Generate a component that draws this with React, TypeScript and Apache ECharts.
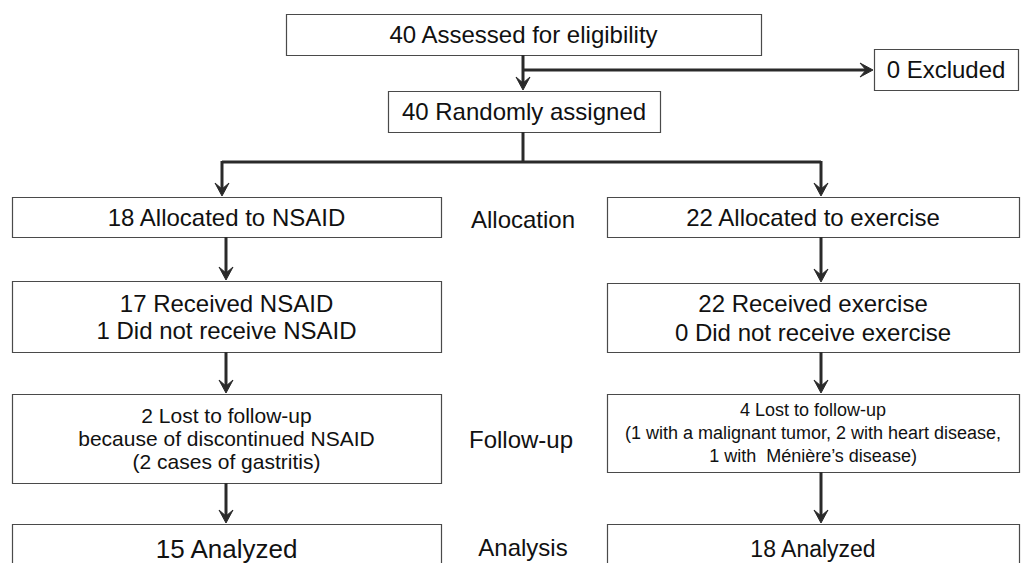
import React, { useEffect, useRef } from "react";
import * as echarts from "echarts";

// ---- content ----
const topLabels = ["40 Assessed for eligibility", "0 Excluded", "40 Randomly assigned"];
const stageLabels = ["Allocation", "Follow-up", "Analysis"];
const nsaidLabels = [
  "18 Allocated to NSAID",
  "17 Received NSAID\n1 Did not receive NSAID",
  "2 Lost to follow-up\nbecause of discontinued NSAID\n(2 cases of gastritis)",
  "15 Analyzed",
];
const exerciseLabels = [
  "22 Allocated to exercise",
  "22 Received exercise\n0 Did not receive exercise",
  "4 Lost to follow-up\n(1 with a malignant tumor, 2 with heart disease,\n1 with  Ménière’s disease)",
  "18 Analyzed",
];

const FONT = "'Liberation Sans', Arial, Helvetica, sans-serif";
const INK = "#111";
const LINE = "#2a2a2a";
const BORDER = "#4a4a4a";

type Box = { x: number; y: number; w: number; h: number; text: string; size: number; lh: number };

function boxEl(b: Box): any[] {
  return [
    {
      type: "rect",
      shape: { x: b.x + 0.5, y: b.y + 0.5, width: b.w, height: b.h },
      style: { fill: "#fff", stroke: BORDER, lineWidth: 1.2 },
      z: 1,
    },
    {
      type: "text",
      x: b.x + b.w / 2,
      y: b.y + b.h / 2,
      style: {
        text: b.text,
        fontFamily: FONT,
        fontSize: b.size,
        lineHeight: b.lh,
        fill: INK,
        align: "center",
        verticalAlign: "middle",
        textAlign: "center",
        textVerticalAlign: "middle",
      },
      z: 2,
    },
  ];
}

function seg(x1: number, y1: number, x2: number, y2: number): any {
  return {
    type: "line",
    shape: { x1, y1, x2, y2 },
    style: { stroke: LINE, lineWidth: 3 },
    z: 3,
  };
}

function headDown(x: number, tip: number): any {
  return {
    type: "polygon",
    shape: { points: [[x, tip], [x - 7, tip - 13], [x, tip - 7], [x + 7, tip - 13]] },
    style: { fill: LINE, stroke: LINE, lineWidth: 1, lineJoin: "miter" },
    z: 4,
  };
}

function headRight(tip: number, y: number): any {
  return {
    type: "polygon",
    shape: { points: [[tip, y], [tip - 13, y - 7], [tip - 7, y], [tip - 13, y + 7]] },
    style: { fill: LINE, stroke: LINE, lineWidth: 1, lineJoin: "miter" },
    z: 4,
  };
}

function label(x: number, y: number, text: string, size: number): any {
  return {
    type: "text",
    x,
    y,
    style: {
      text,
      fontFamily: FONT,
      fontSize: size,
      fill: INK,
      align: "center",
      verticalAlign: "middle",
      textAlign: "center",
      textVerticalAlign: "middle",
    },
    z: 2,
  };
}

export default function App() {
  const ref = useRef<HTMLDivElement>(null);
  useEffect(() => {
    if (!ref.current) return;
    const chart = echarts.init(ref.current, undefined, { renderer: "svg" });

    const LX = 12, LW = 429;
    const RX = 607, RW = 412;
    const boxes: Box[] = [
      { x: 286, y: 14, w: 475, h: 41, text: topLabels[0], size: 24, lh: 28 },
      { x: 874, y: 49, w: 144, h: 41, text: topLabels[1], size: 24, lh: 28 },
      { x: 388, y: 91, w: 272, h: 41, text: topLabels[2], size: 24, lh: 28 },
      { x: LX, y: 197, w: LW, h: 40, text: nsaidLabels[0], size: 24, lh: 28 },
      { x: LX, y: 281, w: LW, h: 71, text: nsaidLabels[1], size: 24, lh: 27 },
      { x: LX, y: 394, w: LW, h: 89, text: nsaidLabels[2], size: 21, lh: 23 },
      { x: LX, y: 524, w: LW, h: 50, text: nsaidLabels[3], size: 26, lh: 30 },
      { x: RX, y: 197, w: RW, h: 40, text: exerciseLabels[0], size: 24, lh: 28 },
      { x: RX, y: 283, w: RW, h: 69, text: exerciseLabels[1], size: 24, lh: 29 },
      { x: RX, y: 394, w: RW, h: 78, text: exerciseLabels[2], size: 18, lh: 23 },
      { x: RX, y: 524, w: RW, h: 50, text: exerciseLabels[3], size: 23, lh: 28 },
    ];

    const els: any[] = [];
    boxes.forEach((b) => els.push(...boxEl(b)));

    // connectors
    els.push(seg(523, 55, 523, 85), headDown(523, 90));
    els.push(seg(523, 70, 866, 70), headRight(873, 70));
    els.push(seg(523, 132, 523, 162));
    els.push(seg(222, 162, 821, 162));
    els.push(seg(222, 161, 222, 190), headDown(222, 196));
    els.push(seg(821, 161, 821, 190), headDown(821, 196));
    els.push(seg(226, 237, 226, 274), headDown(226, 280));
    els.push(seg(821, 237, 821, 276), headDown(821, 282));
    els.push(seg(226, 352, 226, 387), headDown(226, 393));
    els.push(seg(821, 352, 821, 387), headDown(821, 393));
    els.push(seg(226, 483, 226, 517), headDown(226, 523));
    els.push(seg(821, 472, 821, 517), headDown(821, 523));

    // stage labels
    els.push(label(523, 219, stageLabels[0], 24));
    els.push(label(521, 439, stageLabels[1], 24));
    els.push(label(523, 547, stageLabels[2], 24));

    chart.setOption({
      animation: false,
      backgroundColor: "#fff",
      graphic: { elements: els },
    });
    return () => chart.dispose();
  }, []);
  return (
    <div
      ref={ref}
      style={{ position: "fixed", left: 0, top: 0, width: 1023, height: 563, background: "#fff" }}
    />
  );
}
